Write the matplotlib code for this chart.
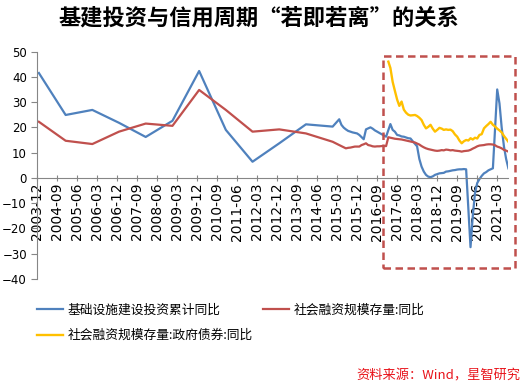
import numpy as np
import pandas as pd
import matplotlib
matplotlib.use('Agg')
import matplotlib.pyplot as plt
from matplotlib.patches import Rectangle

plt.rcParams['font.family'] = ['DejaVu Sans', 'Noto Sans CJK SC']


def months(start, end, skip_jan=False):
    # month labels between start and end, inclusive
    idx = pd.period_range(start, end, freq='M')
    return [str(p) for p in idx if not (skip_jan and p.month == 1)]


# infrastructure investment, cumulative yoy (%)
infra_dates = (months('2003-12', '2014-12')[::12] + months('2015-03', '2015-12')
               + months('2016-02', '2021-07', skip_jan=True))
infra_vals = [41.5, 24.9, 26.9, 21.8, 16.2, 22.6, 42.3, 19.0, 6.4, 13.7, 21.2, 20.3,
              23.2, 21.0, 19.9, 19.2, 18.6, 18.3, 18.0, 17.8, 17.6, 17.0,
              15.3, 19.2, 19.6, 20.0, 19.5, 18.8, 18.3, 17.8, 17.3, 16.8, 16.3,
              21.3, 19.0, 18.3, 17.0, 16.8, 16.4, 16.3, 16.0, 15.7, 15.6, 14.5,
              12.5, 7.5, 4.5, 2.5, 1.2, 0.5, 0.3, 0.6, 1.2, 1.5, 1.8,
              2.0, 2.5, 2.6, 2.8, 3.0, 3.1, 3.3, 3.4, 3.4, 3.5, 3.4,
              -27.4, -15.0, -6.0, -2.0, -0.5, 0.8, 1.8, 2.3, 3.0, 3.4, 3.8,
              35.0, 29.5, 20.0, 12.5, 7.5, 3.8]

# social financing stock yoy (%)
tsf_dates = (months('2003-12', '2014-12')[::12] + ['2015-03']
             + months('2015-06', '2021-07'))
tsf_vals = [22.2, 14.7, 13.4, 18.3, 21.5, 20.6, 34.8, 26.9, 18.3, 19.2, 17.6, 14.3,
            13.0,
            11.7, 11.9, 12.0, 12.2, 12.4, 12.4, 12.4,
            13.0, 13.3, 13.7, 13.0, 12.8, 12.5, 12.4, 12.5, 12.5, 12.6, 12.6, 12.6,
            16.1, 15.9, 15.7, 15.5, 15.4, 15.3, 15.2, 15.0, 14.8, 14.6, 14.4, 14.2,
            14.0, 13.6, 13.2, 12.6, 12.1, 11.7, 11.4, 11.2, 11.0, 10.8, 10.7, 10.8,
            11.0, 10.9, 11.2, 11.1, 10.9, 11.0, 10.8, 10.7, 10.6, 10.4, 10.6, 10.7,
            10.8, 11.1, 11.6, 12.0, 12.5, 12.8, 12.9, 13.0, 13.2, 13.3, 13.3, 13.2,
            12.9, 12.4, 12.1, 11.7, 11.1, 10.8, 10.4]

# social financing stock: government bonds yoy (%)
gov_dates = months('2017-01', '2021-07')
gov_vals = [46.0, 43.5, 38.0, 34.5, 31.0, 28.5, 30.2, 27.0, 25.8, 25.0, 24.7, 24.8,
            24.9, 24.5, 23.8, 22.9, 21.0, 19.6, 20.2, 21.0, 19.5, 18.3, 19.0, 19.8,
            19.5, 19.0, 19.2, 19.0, 19.1, 18.5, 17.2, 16.3, 14.8, 13.7, 14.5, 15.0,
            14.8, 15.7, 15.2, 15.9, 15.6, 17.0, 17.3, 19.6, 20.5, 21.3, 22.2, 21.0,
            20.3, 19.5, 18.8, 18.0, 16.6, 15.5, 14.3]

labels = ['基础设施建设投资累计同比', '社会融资规模存量:同比', '社会融资规模存量:政府债券:同比']
colors = ['#4F81BD', '#C0504D', '#FFC000']
y_ticks = list(range(-40, 51, 10))


def to_dt(ds):
    # data sits at month end, like the Excel source
    return pd.to_datetime(ds) + pd.offsets.MonthEnd(0)


fig = plt.figure(figsize=(5.28, 3.84), dpi=100)
ax = fig.add_axes([0.0695, 0.2734, 0.8935, 0.5924])

l1, = ax.plot(to_dt(infra_dates), infra_vals, color=colors[0], lw=1.6)
l2, = ax.plot(to_dt(tsf_dates), tsf_vals, color=colors[1], lw=1.6)
l3, = ax.plot(to_dt(gov_dates), gov_vals, color=colors[2], lw=1.7)

ax.set_xlim(pd.Timestamp('2003-12-01'), pd.Timestamp('2021-08-01'))
ax.set_ylim(-40, 50)
ax.set_yticks(y_ticks)

tick_dates = pd.date_range('2003-12-01', '2021-03-01', freq='9MS')
ax.set_xticks(tick_dates)
ax.set_xticklabels([d.strftime('%Y-%m') for d in tick_dates], fontsize=7.5)
ax.tick_params(axis='x', direction='inout', length=5, color='#868686', pad=1,
               labelrotation=90)
ax.tick_params(axis='y', direction='out', length=4, color='#868686', labelsize=8.5, pad=3)

for s in ['top', 'right']:
    ax.spines[s].set_visible(False)
ax.spines['bottom'].set_position(('data', 0))
for s in ['left', 'bottom']:
    ax.spines[s].set_color('#868686')
    ax.spines[s].set_linewidth(0.8)
ax.patch.set_alpha(0)

fig.text(0.49, 0.952, '基建投资与信用周期“若即若离”的关系', ha='center', va='center',
         fontsize=16, fontweight='bold', family=['Noto Sans CJK SC'])

fig.legend([l1, l3, l2], [labels[0], labels[2], labels[1]], ncol=2,
           loc='upper left', bbox_to_anchor=(0.07, 0.21), frameon=False,
           prop={'family': ['Noto Sans CJK SC'], 'size': 9.2},
           handlelength=2.0, handletextpad=0.42, columnspacing=0.78,
           labelspacing=1.0, borderpad=0, borderaxespad=0)

fig.text(0.985, 0.022, '资料来源：Wind，星智研究', ha='right', va='center',
         fontsize=9.5, color='#E8141B', family=['Noto Sans CJK SC'])

# dashed highlight box
fig.patches.append(Rectangle((0.7254, 0.3021), 0.25, 0.552, transform=fig.transFigure,
                             fill=False, edgecolor='#C0504D', lw=1.8,
                             linestyle=(0, (3, 1.8))))

fig.savefig('out.png', dpi=100)
